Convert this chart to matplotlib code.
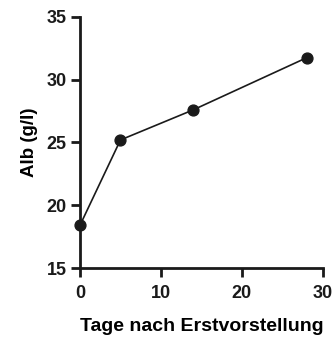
import matplotlib
matplotlib.use("Agg")
import matplotlib.pyplot as plt

days = [0, 5, 14, 28]
alb = [18.4, 25.2, 27.6, 31.75]
xticks = [0, 10, 20, 30]
yticks = [15, 20, 25, 30, 35]

plt.rcParams["font.family"] = ["Liberation Sans", "DejaVu Sans"]
plt.rcParams["font.weight"] = "bold"

fig = plt.figure(figsize=(3.36, 3.38), dpi=100)
ax = fig.add_axes([0.238, 0.207, 0.723, 0.743])
ax.plot(days, alb, color="#1a1a1a", lw=1.2, marker="o", ms=7.8, clip_on=False)
ax.set_xlim(0, 30)
ax.set_ylim(15, 35)
ax.set_xticks(xticks)
ax.set_yticks(yticks)
for s in ["top", "right"]:
    ax.spines[s].set_visible(False)
for s in ["left", "bottom"]:
    ax.spines[s].set_linewidth(2)
    ax.spines[s].set_color("#1a1a1a")
ax.tick_params(width=2, length=6.5, labelsize=13, pad=3, color="#1a1a1a", labelcolor="#1a1a1a")
ax.tick_params(axis="x", pad=6)
ax.set_xlabel("Tage nach Erstvorstellung", fontsize=14, fontweight="bold", labelpad=11)
ax.set_ylabel("Alb (g/l)", fontsize=13.5, fontweight="bold", labelpad=6)
fig.savefig("out.png", dpi=100)
